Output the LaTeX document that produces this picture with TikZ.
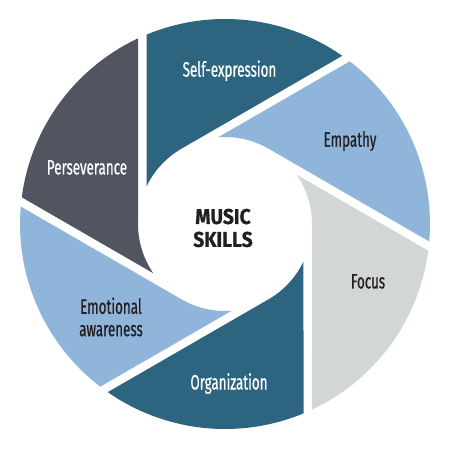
\documentclass[tikz,border=0pt]{standalone}
\usepackage{fontspec}
\setmainfont{Fira Sans}
\newfontfamily\narrowfont{Fira Sans}[FakeStretch=0.64,FakeBold=0.6]
\newfontfamily\hubfont{Fira Sans}[FakeStretch=0.9,FakeBold=0.8]

\definecolor{bladeteal}{HTML}{2D6480}
\definecolor{bladeslate}{HTML}{50555F}
\definecolor{bladesky}{HTML}{8FB6DA}
\definecolor{bladefog}{HTML}{D2D6D7}
\definecolor{inkdark}{HTML}{231F20}

\begin{document}
\begin{tikzpicture}[x=1bp,y=1bp,
	skill/.style={font=\narrowfont\fontsize{21}{22.5}\selectfont,align=center,anchor=base},
	hub/.style={font=\hubfont\bfseries\fontsize{21.5}{23}\selectfont,align=center,text=inkdark}]
	\useasboundingbox (-225,-226) rectangle (225,224);
	% radii: outer rim, hole, gap lines at 83 with 9 wide gaps
	\pgfmathsetmacro{\rout}{205}
	\pgfmathsetmacro{\rhole}{87}
	\pgfmathsetmacro{\tipang}{240-acos(78.5/87)}
	\pgfmathsetmacro{\rimA}{240-acos(78.5/205)}
	\pgfmathsetmacro{\rimB}{180-acos(87/205)}
	
	\foreach \k/\col in {0/bladeslate,1/bladesky,2/bladeteal,3/bladefog,4/bladesky,5/bladeteal}
	\fill[\col,rotate=60*\k] (180:\rhole) arc[start angle=180,end angle=\tipang,radius=\rhole]
		-- (\rimA:\rout) arc[start angle=\rimA,end angle=\rimB,radius=\rout] -- cycle;
	
	\node[skill,text=white](selfexp) at (4.5,147.3){Self-expression};
	\node[skill,text=inkdark](empathy) at (125,77.3){Empathy};
	\node[skill,text=white](persev) at (-138,49.5){Perseverance};
	\node[skill,text=inkdark](focus) at (143,-64.5){Focus};
	\node[skill,text=inkdark,anchor=center](emotion) at (-114,-93){Emotional\\awareness};
	\node[skill,text=white](organ) at (4,-165.5){Organization};
	\node[hub](music) at (-2,-4){MUSIC\\SKILLS};
\end{tikzpicture}
\end{document}
